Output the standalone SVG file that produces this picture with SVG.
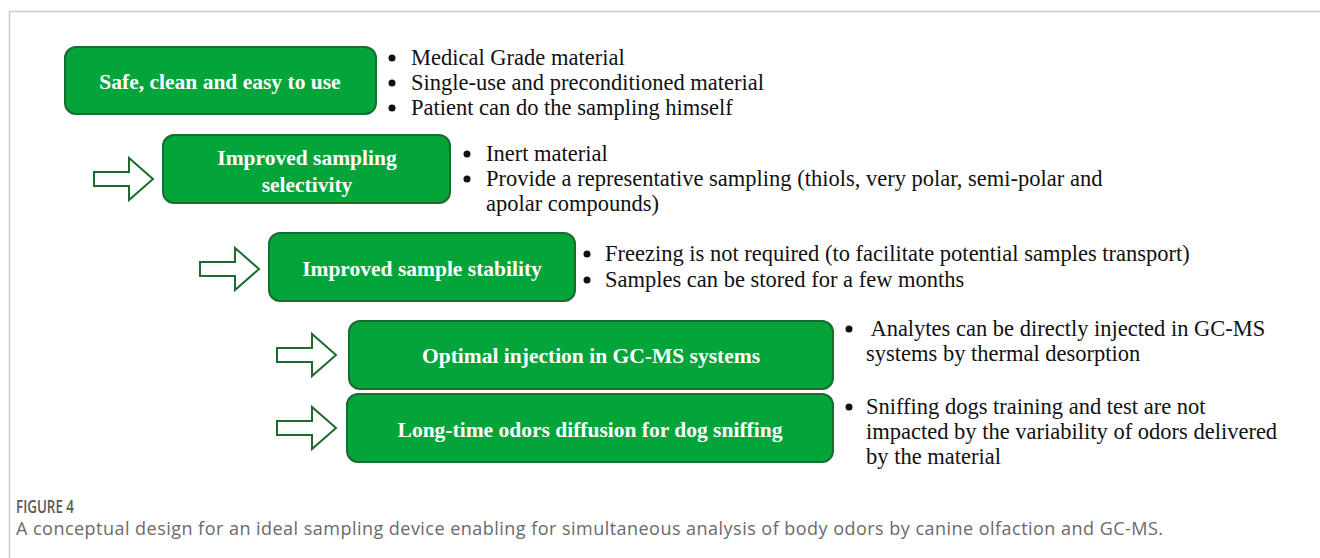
<svg xmlns="http://www.w3.org/2000/svg" width="1320" height="558" viewBox="0 0 1320 558">
<defs>
<style>
.box{fill:#03a43a;stroke:#1d6a2e;stroke-width:2}
.bt{fill:#ffffff;font-family:"Liberation Serif",serif;font-weight:bold;font-size:21.5px;text-anchor:middle}
.li{fill:#111;font-family:"Liberation Serif",serif;font-size:22.5px}
.dot{fill:#111}
.arr{fill:#ffffff;stroke:#1d6a2e;stroke-width:2;stroke-linejoin:miter}
.cap1{fill:#5a5a5a;font-family:"Open Sans",sans-serif;font-weight:600;font-size:17.5px}
.cap2{fill:#6a6a6a;font-family:"Open Sans",sans-serif;font-size:18px}
</style>
<path id="ar" d="M0,-7 H35 V-21 L59,0 L35,21 V7 H0 Z"/>
</defs>
<rect width="1320" height="558" fill="#ffffff"/>
<path d="M9.5,558 V11.5 H1320" fill="none" stroke="#cccccc" stroke-width="1.5"/>

<g id="connectors">
<use href="#ar" class="arr" transform="translate(94,179)"/>
<use href="#ar" class="arr" transform="translate(200,269)"/>
<use href="#ar" class="arr" transform="translate(277,355)"/>
<use href="#ar" class="arr" transform="translate(277,428)"/>
</g>

<g id="node1">
<rect class="box" x="65" y="47" width="311" height="67" rx="11"/>
<text class="bt" x="220" y="89">Safe, clean and easy to use</text>
<circle class="dot" cx="392" cy="58" r="3.5"/><text class="li" x="411" y="65">Medical Grade material</text>
<circle class="dot" cx="392" cy="83" r="3.5"/><text class="li" x="411" y="90">Single-use and preconditioned material</text>
<circle class="dot" cx="392" cy="108" r="3.5"/><text class="li" x="411" y="115">Patient can do the sampling himself</text>
</g>

<g id="node2">
<rect class="box" x="163" y="135" width="287" height="68" rx="11"/>
<text class="bt" x="307" y="165">Improved sampling</text>
<text class="bt" x="307" y="192">selectivity</text>
<circle class="dot" cx="467" cy="154" r="3.5"/><text class="li" x="486" y="161">Inert material</text>
<circle class="dot" cx="467" cy="179" r="3.5"/><text class="li" x="486" y="186">Provide a representative sampling (thiols, very polar, semi-polar and</text>
<text class="li" x="486" y="211">apolar compounds)</text>
</g>

<g id="node3">
<rect class="box" x="269" y="233" width="306" height="68" rx="11"/>
<text class="bt" x="422" y="276">Improved sample stability</text>
<circle class="dot" cx="587" cy="254" r="3.5"/><text class="li" x="605" y="261">Freezing is not required (to facilitate potential samples transport)</text>
<circle class="dot" cx="587" cy="280" r="3.5"/><text class="li" x="605" y="287">Samples can be stored for a few months</text>
</g>

<g id="node4">
<rect class="box" x="349" y="321" width="484" height="68" rx="11"/>
<text class="bt" x="591" y="363">Optimal injection in GC-MS systems</text>
<circle class="dot" cx="849" cy="329" r="3.5"/><text class="li" x="866" y="336" xml:space="preserve"> Analytes can be directly injected in GC-MS</text>
<text class="li" x="866" y="361">systems by thermal desorption</text>
</g>

<g id="node5">
<rect class="box" x="347" y="394" width="486" height="68" rx="11"/>
<text class="bt" x="590" y="437">Long-time odors diffusion for dog sniffing</text>
<circle class="dot" cx="849" cy="407" r="3.5"/><text class="li" x="866" y="414">Sniffing dogs training and test are not</text>
<text class="li" x="866" y="439">impacted by the variability of odors delivered</text>
<text class="li" x="866" y="464">by the material</text>
</g>

<text class="cap1" x="16" y="513" textLength="58" lengthAdjust="spacingAndGlyphs">FIGURE 4</text>
<text class="cap2" x="16" y="535" textLength="1147" lengthAdjust="spacing">A conceptual design for an ideal sampling device enabling for simultaneous analysis of body odors by canine olfaction and GC-MS.</text>
</svg>
